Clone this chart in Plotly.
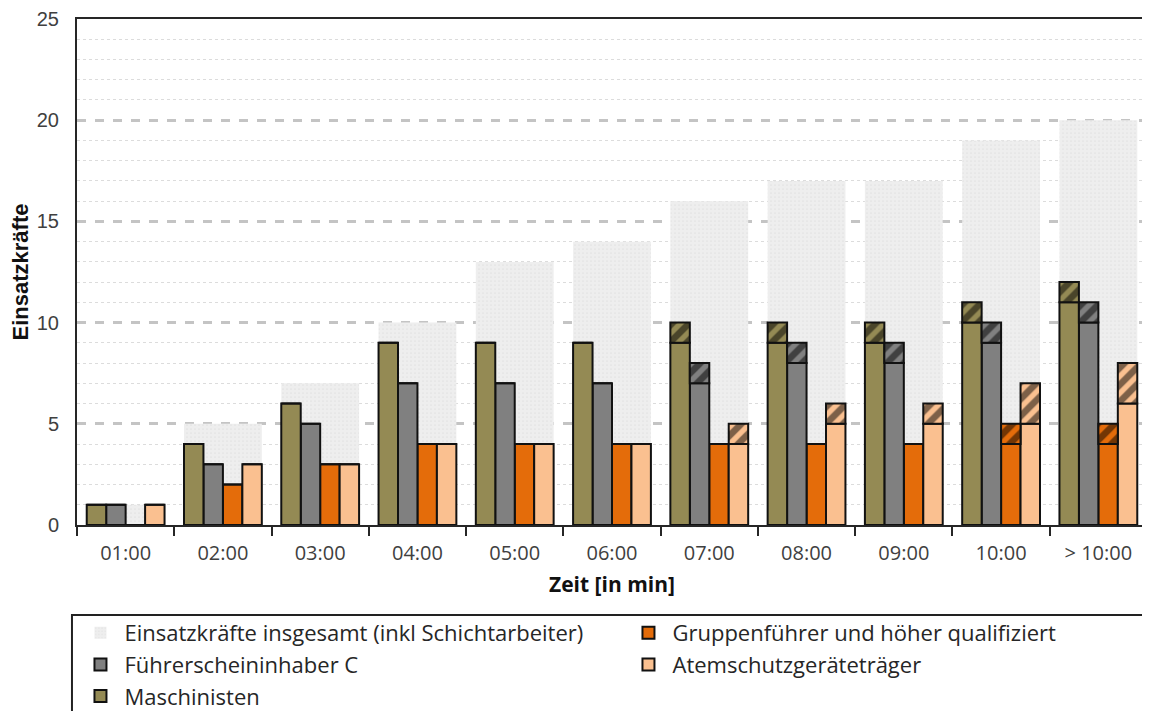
import plotly.graph_objects as go

zeiten = ['01:00', '02:00', '03:00', '04:00', '05:00', '06:00', '07:00', '08:00', '09:00', '10:00', '> 10:00']

gesamt = [1, 5, 7, 10, 13, 14, 16, 17, 17, 19, 20]

maschinisten = [1, 4, 6, 9, 9, 9, 9, 9, 9, 10, 11]
maschinisten_zus = [0, 0, 0, 0, 0, 0, 1, 1, 1, 1, 1]

fuehrerschein = [1, 3, 5, 7, 7, 7, 7, 8, 8, 9, 10]
fuehrerschein_zus = [0, 0, 0, 0, 0, 0, 1, 1, 1, 1, 1]

gruppenfuehrer = [0, 2, 3, 4, 4, 4, 4, 4, 4, 4, 4]
gruppenfuehrer_zus = [0, 0, 0, 0, 0, 0, 0, 0, 0, 1, 1]

atemschutz = [1, 3, 3, 4, 4, 4, 4, 5, 5, 5, 6]
atemschutz_zus = [0, 0, 0, 0, 0, 0, 1, 1, 1, 2, 2]

# (name, base values, extra values, colour, slot in group) - order = legend order
serien = [
    ('Gruppenführer und höher qualifiziert', gruppenfuehrer, gruppenfuehrer_zus, '#E46C0A', 2),
    ('Führerscheininhaber C', fuehrerschein, fuehrerschein_zus, '#808080', 1),
    ('Atemschutzgeräteträger', atemschutz, atemschutz_zus, '#FAC090', 3),
    ('Maschinisten', maschinisten, maschinisten_zus, '#948A54', 0),
]

fig = go.Figure()

# Hintergrund: alle Einsatzkräfte
fig.add_trace(go.Bar(
    x=zeiten, y=gesamt, name='Einsatzkräfte insgesamt (inkl Schichtarbeiter)',
    width=0.8, offset=-0.4,
    marker=dict(color='#eeeeee', line=dict(width=0),
                pattern=dict(shape='.', fgcolor='#d6d6d6', bgcolor='#eeeeee', size=4, solidity=0.15)),
))

bw = 0.2
for name, basis, zus, farbe, slot in serien:
    fig.add_trace(go.Bar(
        x=zeiten, y=basis, name=name, width=bw, offset=-0.4 + slot * bw,
        marker=dict(color=farbe, line=dict(color='#111111', width=2)),
    ))
# schraffierte Aufstockung
for name, basis, zus, farbe, slot in serien:
    fig.add_trace(go.Bar(
        x=zeiten, y=zus, base=basis, name=name, showlegend=False,
        width=bw, offset=-0.4 + slot * bw,
        marker=dict(color=farbe, line=dict(color='#111111', width=2),
                    pattern=dict(shape='/', fgcolor='#000000', bgcolor=farbe, size=12, solidity=0.55)),
    ))

fig.update_layout(
    barmode='overlay',
    width=1142, height=703,
    margin=dict(l=69, r=3, t=11, b=186, autoexpand=False),
    plot_bgcolor='white', paper_bgcolor='white',
    showlegend=True,
    legend=dict(orientation='h', x=-0.0005, y=-0.172, xanchor='left', yanchor='top',
                entrywidth=495, traceorder='normal', bgcolor='rgba(0,0,0,0)',
                font=dict(family='Open Sans', size=22, color='#262626'),
                itemwidth=38, tracegroupgap=0),
    shapes=[dict(type='rect', xref='paper', yref='paper',
                 x0=-0.0047, x1=1.0, y0=-0.40, y1=-0.178,
                 line=dict(color='#222222', width=2), fillcolor='rgba(0,0,0,0)')],
)

fig.update_xaxes(
    title=dict(text='<b>Zeit [in min]</b>', font=dict(family='Open Sans', size=21, color='#111111'), standoff=12),
    tickfont=dict(family='Open Sans', size=20, color='#404040'),
    ticklabelstandoff=9,
    showline=True, linecolor='#262626', linewidth=2, mirror=True,
    ticks='outside', tickson='boundaries', ticklen=9, tickwidth=2, tickcolor='#262626',
    showgrid=False,
)

fig.update_yaxes(
    title=dict(text='<b>Einsatzkräfte</b>', font=dict(family='Liberation Sans', size=22, color='#111111'), standoff=10),
    tickfont=dict(family='Liberation Sans', size=20, color='#404040'),
    ticklabelstandoff=12, ticklabeloverflow='allow',
    range=[0, 25], dtick=5, tick0=0,
    showline=True, linecolor='#262626', linewidth=2, mirror=True,
    showgrid=True, gridcolor='#c4c4c4', gridwidth=2.5, griddash='dash',
    minor=dict(dtick=1, showgrid=True, gridcolor='#dcdcdc', gridwidth=1, griddash='dot'),
    zeroline=False, ticks='',
)

fig.write_html("out.html")
